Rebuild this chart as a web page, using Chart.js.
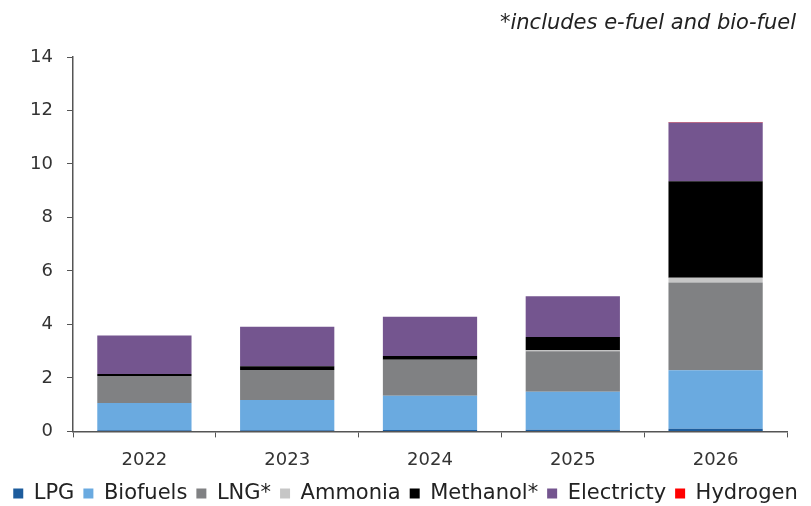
<!DOCTYPE html>
<html>
<head>
<meta charset="utf-8">
<script src="https://cdn.jsdelivr.net/npm/chart.js@4.4.1/dist/chart.umd.min.js"></script>
<style>
  html, body { margin: 0; padding: 0; background: #fff; }
  #wrap { width: 811px; height: 506px; position: relative; }
</style>
</head>
<body>
<div id="wrap"><canvas id="c" width="811" height="506"></canvas></div>
<script>
const categories = ['2022', '2023', '2024', '2025', '2026'];
const lpg         = [0.04, 0.04, 0.05, 0.06, 0.10];
const biofuels    = [1.02, 1.13, 1.28, 1.42, 2.19];
const lng         = [1.01, 1.13, 1.35, 1.52, 3.28];
const ammonia     = [0.00, 0.00, 0.00, 0.03, 0.18];
const methanol    = [0.08, 0.14, 0.14, 0.50, 3.60];
const electricity = [1.44, 1.47, 1.47, 1.52, 2.20];
const hydrogen    = [0.00, 0.00, 0.00, 0.00, 0.02];
const yTicks = [0, 2, 4, 6, 8, 10, 12, 14];
const footnote = '*includes e-fuel and bio-fuel';

const FONT = "'DejaVu Sans', sans-serif";
const AXIS = '#555555';

const series = [
  { label: 'LPG', data: lpg, color: '#1d5c9c' },
  { label: 'Biofuels', data: biofuels, color: '#6aaae0' },
  { label: 'LNG*', data: lng, color: '#808183' },
  { label: 'Ammonia', data: ammonia, color: '#c6c6c6' },
  { label: 'Methanol*', data: methanol, color: '#000000' },
  { label: 'Electricty', data: electricity, color: '#74558f' },
  { label: 'Hydrogen', data: hydrogen, color: '#ff0000' }
];

const footnotePlugin = {
  id: 'footnote',
  afterDraw(chart) {
    const ctx = chart.ctx;
    ctx.save();
    ctx.font = "italic 21px " + FONT;
    ctx.fillStyle = '#222';
    ctx.textAlign = 'right';
    ctx.textBaseline = 'alphabetic';
    ctx.fillText(footnote, 796, 29);
    ctx.restore();
  }
};

new Chart(document.getElementById('c'), {
  type: 'bar',
  data: {
    labels: categories,
    datasets: series.map(s => ({
      label: s.label,
      data: s.data,
      backgroundColor: s.color,
      borderWidth: 0,
      categoryPercentage: 1.0,
      barPercentage: 0.66
    }))
  },
  options: {
    responsive: false,
    animation: false,
    layout: { padding: { left: 0, right: 0, top: 57, bottom: -8 } },
    plugins: {
      tooltip: { enabled: false },
      title: { display: false },
      legend: {
        position: 'bottom',
        align: 'center',
        labels: {
          boxWidth: 10,
          boxHeight: 10,
          padding: 9,
          color: '#222',
          font: { family: FONT, size: 21 }
        }
      }
    },
    scales: {
      x: {
        stacked: true,
        afterFit: (s) => { s.height = s.height - 9; },
        grid: { display: true, drawOnChartArea: false, drawTicks: true, tickLength: 6, color: AXIS, offset: true },
        border: { display: true, color: AXIS, width: 1.5 },
        ticks: { color: '#333', font: { family: FONT, size: 18 }, padding: 12 }
      },
      y: {
        stacked: true,
        min: 0,
        max: 14,
        afterFit: (s) => { s.width = 73; },
        afterBuildTicks: (s) => { s.ticks = yTicks.map(v => ({ value: v })); },
        grid: { display: true, drawOnChartArea: false, drawTicks: true, tickLength: 6, color: AXIS },
        border: { display: true, color: AXIS, width: 1.5 },
        ticks: { color: '#333', font: { family: FONT, size: 18 }, padding: 14 }
      },
      yRight: {
        position: 'right',
        display: true,
        afterFit: (s) => { s.width = 24; },
        grid: { display: false },
        border: { display: false },
        ticks: { display: false }
      }
    }
  },
  plugins: [footnotePlugin]
});
</script>
</body>
</html>
